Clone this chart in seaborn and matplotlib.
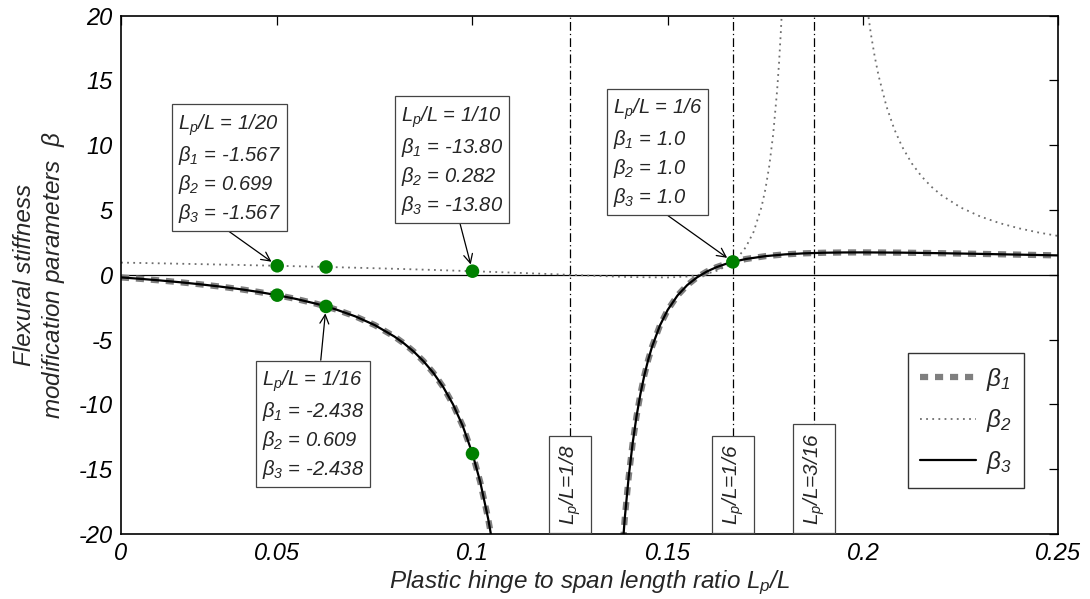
import matplotlib
matplotlib.use("Agg")
import matplotlib.pyplot as plt
import seaborn as sns
import numpy as np

# ---------------- data ----------------
# beta1 (= beta3) left branch
b1_left_x = [0.01, 0.015, 0.02, 0.025, 0.03, 0.035, 0.04, 0.045, 0.05, 0.055, 0.06,
             0.0625, 0.065, 0.07, 0.075, 0.08, 0.0825, 0.085, 0.0875, 0.09, 0.0925,
             0.095, 0.0975, 0.1, 0.102, 0.104, 0.105]
b1_left_y = [-0.196, -0.308, -0.431, -0.567, -0.720, -0.891, -1.085, -1.308, -1.567,
             -1.870, -2.230, -2.438, -2.666, -3.204, -3.881, -4.759, -5.300, -5.933,
             -6.679, -7.571, -8.652, -9.983, -11.654, -13.80, -15.997, -18.795, -20.49]
# beta1 (= beta3) right branch
b1_right_x = [0.138, 0.139, 0.14, 0.141, 0.142, 0.143, 0.144, 0.145, 0.146, 0.148,
              0.15, 0.1525, 0.155, 0.1575, 0.16, 0.1625, 0.165, 0.16667, 0.17, 0.175,
              0.18, 0.185, 0.19, 0.195, 0.2, 0.21, 0.22, 0.23, 0.24, 0.25]
b1_right_y = [-22.77, -18.77, -15.587, -13.022, -10.929, -9.201, -7.762, -6.552, -5.528,
              -3.906, -2.70, -1.592, -0.788, -0.193, 0.255, 0.596, 0.859, 1.0, 1.222,
              1.444, 1.580, 1.661, 1.707, 1.728, 1.733, 1.713, 1.671, 1.618, 1.560, 1.50]
# beta2 left branch
b2_left_x = [0.01, 0.02, 0.03, 0.04, 0.05, 0.06, 0.0625, 0.07, 0.08, 0.09, 0.1, 0.11,
             0.12, 0.125, 0.13, 0.14, 0.15, 0.155, 0.16, 0.1625, 0.165, 0.16667, 0.168,
             0.17, 0.172, 0.174, 0.175, 0.176, 0.177, 0.178, 0.1785, 0.179, 0.1795]
b2_left_y = [0.946, 0.889, 0.829, 0.766, 0.699, 0.628, 0.609, 0.552, 0.469, 0.379, 0.282,
             0.175, 0.060, 0.0, -0.060, -0.167, -0.200, -0.130, 0.090, 0.309, 0.658, 1.0,
             1.366, 2.138, 3.325, 5.222, 6.60, 8.415, 10.854, 14.21, 16.372, 18.967, 22.11]
# beta2 right branch
b2_right_x = [0.2, 0.201, 0.202, 0.203, 0.204, 0.206, 0.208, 0.21, 0.2125, 0.215, 0.2175,
              0.22, 0.225, 0.23, 0.235, 0.24, 0.245, 0.25]
b2_right_y = [23.4, 20.766, 18.618, 16.841, 15.351, 13.003, 11.249, 9.898, 8.597, 7.596,
              6.805, 6.165, 5.20, 4.508, 3.989, 3.586, 3.264, 3.0]

# highlighted points
pts_x = [0.05, 0.0625, 0.1, 0.05, 0.0625, 0.1, 0.16667]
pts_y = [0.699, 0.609, 0.282, -1.567, -2.438, -13.80, 1.0]

# annotation boxes
ann_text = [
    "$L_p$/L = 1/20\n$\\beta_1$ = -1.567\n$\\beta_2$ = 0.699\n$\\beta_3$ = -1.567",
    "$L_p$/L = 1/10\n$\\beta_1$ = -13.80\n$\\beta_2$ = 0.282\n$\\beta_3$ = -13.80",
    "$L_p$/L = 1/6\n$\\beta_1$ = 1.0\n$\\beta_2$ = 1.0\n$\\beta_3$ = 1.0",
    "$L_p$/L = 1/16\n$\\beta_1$ = -2.438\n$\\beta_2$ = 0.609\n$\\beta_3$ = -2.438",
]
ann_pt_x = [0.05, 0.1, 0.16667, 0.0625]
ann_pt_y = [0.699, 0.282, 1.0, -2.438]
ann_txt_x = [0.0379, 0.0948, 0.1473, 0.0591]
ann_txt_y = [8.2, 8.8, 9.4, -11.6]
ann_rel = [(0.40, 0.0), (0.56, 0.0), (0.52, 0.0), (0.57, 1.0)]

# vertical reference lines
vline_x = [0.125, 1 / 6, 0.1875]
vline_lab = ["$L_p$/L=1/8", "$L_p$/L=1/6", "$L_p$/L=3/16"]

xticks = [0.01, 0.05, 0.1, 0.15, 0.2, 0.25]
xtick_labels = ["0", "0.05", "0.1", "0.15", "0.2", "0.25"]
yticks = [-20, -15, -10, -5, 0, 5, 10, 15, 20]

# ---------------- style ----------------
sns.set_style("white")
plt.rcParams["font.family"] = ["Liberation Sans", "DejaVu Sans"]
plt.rcParams["font.style"] = "italic"
plt.rcParams["axes.unicode_minus"] = False
plt.rcParams["mathtext.fontset"] = "custom"
plt.rcParams["mathtext.it"] = "Liberation Sans:italic"
plt.rcParams["mathtext.rm"] = "Liberation Sans:italic"
plt.rcParams["mathtext.sf"] = "Liberation Sans:italic"
plt.rcParams["mathtext.default"] = "it"

fig = plt.figure(figsize=(10.9, 5.99), dpi=100)
ax = fig.add_axes([0.1110, 0.1085, 0.8599, 0.8653])

GRAY = "#7f7f7f"

# beta1 thick dashed gray
sns.lineplot(x=b1_left_x, y=b1_left_y, ax=ax, color=GRAY, lw=4.5,
             linestyle=(0, (1.3, 1.1)), dash_capstyle="butt", zorder=2)
h1 = ax.lines[-1]
sns.lineplot(x=b1_right_x, y=b1_right_y, ax=ax, color=GRAY, lw=4.5,
             linestyle=(0, (1.3, 1.1)), dash_capstyle="butt", zorder=2)
# beta2 dotted gray
sns.lineplot(x=b2_left_x, y=b2_left_y, ax=ax, color="#6e6e6e", lw=1.3,
             linestyle=(0, (1.0, 2.4)), zorder=2)
h2 = ax.lines[-1]
sns.lineplot(x=b2_right_x, y=b2_right_y, ax=ax, color="#6e6e6e", lw=1.3,
             linestyle=(0, (1.0, 2.4)), zorder=2)
# beta3 solid black (coincides with beta1)
sns.lineplot(x=b1_left_x, y=b1_left_y, ax=ax, color="black", lw=1.6, zorder=3)
h3 = ax.lines[-1]
sns.lineplot(x=b1_right_x, y=b1_right_y, ax=ax, color="black", lw=1.6, zorder=3)

# zero line
ax.axhline(0, color="black", lw=0.9, zorder=1)

# vertical reference lines + labels
for xv, lab in zip(vline_x, vline_lab):
    ax.axvline(xv, color="black", lw=0.9, linestyle=(0, (7, 2.5, 1, 2.5)), zorder=1)
    ax.text(xv, -19.3, lab, rotation=90, ha="center", va="bottom", fontsize=15,
            bbox=dict(boxstyle="square,pad=0.4", fc="white", ec="#444444", lw=0.9),
            zorder=5)

# green points
sns.scatterplot(x=pts_x, y=pts_y, ax=ax, color="#008000", s=95, edgecolor="none",
                zorder=6, legend=False)

# annotations
for t, px, py, tx, ty, rp in zip(ann_text, ann_pt_x, ann_pt_y, ann_txt_x, ann_txt_y, ann_rel):
    ax.annotate(t, xy=(px, py), xytext=(tx, ty), ha="center", va="center",
                multialignment="left", fontsize=14.5, linespacing=1.35,
                bbox=dict(boxstyle="square,pad=0.3", fc="white", ec="#444444", lw=0.9),
                arrowprops=dict(arrowstyle="->", color="black", lw=0.9, relpos=rp,
                                shrinkA=0, shrinkB=5, mutation_scale=16),
                zorder=7)

# axes
ax.set_xlim(0.01, 0.25)
ax.set_ylim(-20, 20)
ax.set_xticks(xticks)
ax.set_xticklabels(xtick_labels)
ax.set_yticks(yticks)
ax.tick_params(direction="in", length=6.5, width=0.9, top=True, right=True,
               labelsize=17, colors="black", pad=6)
for sp in ax.spines.values():
    sp.set_visible(True)
    sp.set_color("black")
    sp.set_linewidth(1.2)

ax.set_xlabel("Plastic hinge to span length ratio $L_p$/L", fontsize=17.5, labelpad=2)
ax.set_ylabel("Flexural stiffness\nmodification parameters  $\\beta$", fontsize=17.5,
              labelpad=8)

leg = ax.legend(handles=[h1, h2, h3],
                labels=["$\\beta_1$", "$\\beta_2$", "$\\beta_3$"],
                loc="lower right", bbox_to_anchor=(0.963, 0.089), borderaxespad=0,
                fontsize=17.5, frameon=True, fancybox=False, handlelength=2.3,
                labelspacing=0.6, borderpad=0.5, handletextpad=0.4)
leg.get_frame().set_edgecolor("black")
leg.get_frame().set_linewidth(1.0)

fig.savefig("out.png", dpi=100)
